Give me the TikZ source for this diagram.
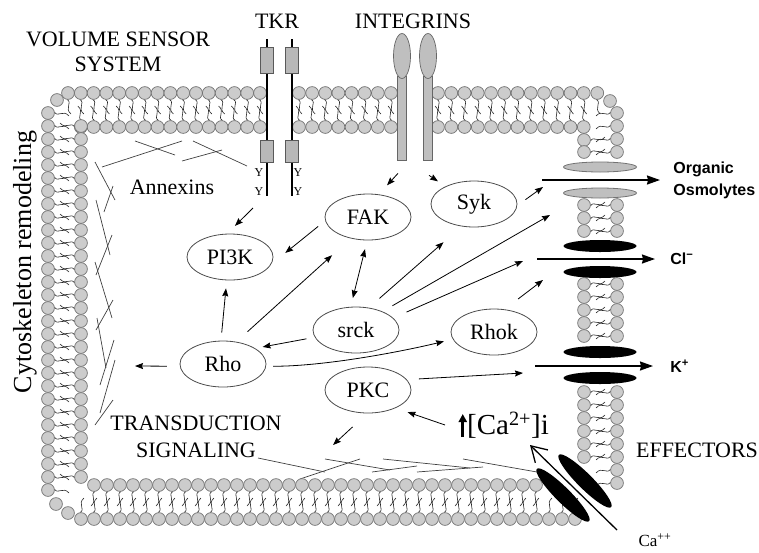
\documentclass[tikz,border=0pt]{standalone}
\usepackage{fontspec}
\setmainfont{Liberation Serif}
\newfontfamily\ionfont{Liberation Sans}
\usetikzlibrary{arrows.meta}
\usetikzlibrary{shapes.geometric}
\tikzset{l/.style={font=\fontsize{22}{25}\selectfont}}
\tikzset{m/.style={font=\fontsize{12}{12}\selectfont}}
\tikzset{ion/.style={font=\ionfont\bfseries\fontsize{16}{22}\selectfont}}
\tikzset{enz/.style={ellipse,draw=black!70,line width=0.8pt,minimum width=86pt,minimum height=46pt,inner sep=0pt,l}}
\tikzset{flux/.style={-{Stealth[length=13pt,width=9pt,inset=1pt]},line width=1.6pt}}
\tikzset{head/.style={fill=black!20,draw=black!55,line width=0.7pt}}
\tikzset{tail/.style={draw=black!85,line width=0.6pt}}
\tikzset{fibre/.style={draw=black!75,line width=0.7pt}}
\tikzset{pore/.style={ellipse,minimum width=73pt,minimum height=12pt,inner sep=0pt}}
\begin{document}
\begin{tikzpicture}[x=1pt,y=-1pt,>={Stealth[length=8pt,width=6pt,inset=1pt]},line width=0.8pt]
  \useasboundingbox (0,0) rectangle (759,552);
  % cytoskeleton
  \foreach \xa/\ya/\xb/\yb in {102/167/182/141,135/141/175/155,193/141/247/166,182/161/222/150,
      95/162/115/200,113/186/104/212,96/200/110/255,112/235/96/275,95/262/112/318,113/300/96/330,
      97/318/106/368,114/340/100/385,100/413/115/360,95/425/113/400,
      258/458/325/472,325/459/390/470,300/479/360/459,383/459/470/468,372/472/417/466,
      417/472/483/467,463/459/537/472}
    \draw[fibre] (\xa,\ya) -- (\xb,\yb);
  % membrane, top
  \foreach \a/\s/\b in {80.8/93.6/260.5, 299/312.14/391.5, 438/451.25/584.5}{
    \foreach \x in {\a,\s,...,\b}{
      \draw[tail] (\x-1,99.4) .. controls (\x+5,103) and (\x-4,108) .. (\x+3,114);
      \draw[tail] (\x+1,120.6) .. controls (\x-5,117) and (\x+4,112) .. (\x-3,106);
    }
  }
  \foreach \a/\s/\b in {80.8/93.6/260.5, 299/312.14/391.5, 438/451.25/584.5}{
    \foreach \x in {\a,\s,...,\b}{
      \draw[head] (\x,93) circle (6.4);
      \draw[head] (\x,127) circle (6.4);
    }
  }
  \foreach \x in {68,597.25}{
    \draw[tail] (\x-1,99.4) .. controls (\x+5,103) and (\x-4,108) .. (\x+3,114);
    \draw[head] (\x,93) circle (6.4);
  }
  % membrane, left
  \foreach \y in {113,126,...,490}{
    \draw[tail] (54.4,\y-1) .. controls (58,\y+5) and (63,\y-4) .. (69,\y+3);
    \draw[head] (48,\y) circle (6.4);
  }
  \foreach \y in {126,139,...,478}{
    \draw[tail] (74.6,\y+1) .. controls (71,\y-5) and (66,\y+4) .. (60,\y-3);
    \draw[head] (81,\y) circle (6.4);
  }
  % membrane, bottom
  \foreach \x in {81,94,...,575}
    \draw[tail] (\x-1,512.6) .. controls (\x+5,509) and (\x-4,504) .. (\x+3,498);
  \foreach \x in {94,107,...,545}
    \draw[tail] (\x+1,491.4) .. controls (\x-5,495) and (\x+4,500) .. (\x-3,506);
  \foreach \x in {81,94,...,575}
    \draw[head] (\x,519) circle (6.4);
  \foreach \x in {94,107,...,545}
    \draw[head] (\x,485) circle (6.4);
  % membrane, right
  \foreach \y in {113,126,139,152,205,218,231,284,297,310,323,336,392,405,...,483}
    \draw[tail] (610.6,\y-1) .. controls (607,\y+5) and (602,\y-4) .. (596,\y+3);
  \foreach \y in {140,152,205,218,231,284,297,310,323,336,392,405,...,457}
    \draw[tail] (590.4,\y+1) .. controls (594,\y-5) and (599,\y+4) .. (605,\y-3);
  \foreach \y in {113,126,139,152,205,218,231,284,297,310,323,336,392,405,...,483}
    \draw[head] (617,\y) circle (6.4);
  \foreach \y in {140,152,205,218,231,284,297,310,323,336,392,405,...,457}
    \draw[head] (584,\y) circle (6.4);
  \foreach \x/\y in {57/100,610/101,56/504,68/513}
    \draw[head] (\x,\y) circle (6.4);
  % channels
  \node[pore,fill=black!25,draw=black!55,minimum height=10pt] (osmA) at (600,167) {};
  \node[pore,fill=black!25,draw=black!55,minimum height=10pt] (osmB) at (600,193) {};
  \node[pore,fill=black] (clA) at (600,246) {};
  \node[pore,fill=black] (clB) at (600,272) {};
  \node[pore,fill=black] (kA) at (600,352) {};
  \node[pore,fill=black] (kB) at (600,378) {};
  \node[pore,fill=black,rotate=-45,minimum width=74pt,minimum height=15pt] (caA) at (563,495) {};
  \node[pore,fill=black,rotate=-45,minimum width=74pt,minimum height=15pt] (caB) at (585,481) {};
  % receptors
  \foreach \x in {267,292}{
    \draw[line width=2.4pt] (\x,39) -- (\x,196);
    \draw[fill=black!28,draw=black!65,line width=0.7pt] (\x-6.5,47) rectangle (\x+6.5,73);
    \draw[fill=black!28,draw=black!65,line width=0.7pt] (\x-6.5,140) rectangle (\x+6.5,162);
  }
  \node[draw=black!60,fill=black!25,line width=0.7pt,minimum width=9pt,minimum height=84pt,inner sep=0pt] (intA) at (402,118) {};
  \node[draw=black!60,fill=black!25,line width=0.7pt,minimum width=9pt,minimum height=84pt,inner sep=0pt] (intB) at (428,118) {};
  \node[ellipse,draw=black!60,fill=black!25,line width=0.7pt,minimum width=17pt,minimum height=45pt,inner sep=0pt] at (402,56) {};
  \node[ellipse,draw=black!60,fill=black!25,line width=0.7pt,minimum width=17pt,minimum height=45pt,inner sep=0pt] at (428,56) {};
  \foreach \x/\y in {259/173,259/192,298/173,298/192}
    \node[m] at (\x,\y) {Y};
  % enzymes
  \node[enz] (pi3k) at (230,257) {PI3K};
  \node[enz] (fak) at (368,217) {FAK};
  \node[enz] (syk) at (474,204) {Syk};
  \node[enz] (srck) at (356,330) {srck};
  \node[enz] (rhok) at (494,332) {Rhok};
  \node[enz] (rho) at (223,364) {Rho};
  \node[enz] (pkc) at (368,390) {PKC};
  % labels
  \node[l,align=center] (vss) at (118,52) {VOLUME SENSOR\\SYSTEM};
  \node[l] (tkr) at (277,21) {TKR};
  \node[l] (integrins) at (413,21) {INTEGRINS};
  \node[l] (annexins) at (172,187) {Annexins};
  \node[l,align=center] (transd) at (196,437) {TRANSDUCTION\\[2pt]SIGNALING};
  \node[l] (effectors) at (697,450) {EFFECTORS};
  \node[font=\fontsize{17}{17}\selectfont] (caion) at (655,540) {Ca\textsuperscript{++}};
  \node[font=\fontsize{29}{29}\selectfont,inner sep=0pt] (ca) at (508,425) {[Ca\textsuperscript{2+}]i};
  \node[rotate=90,font=\fontsize{26}{26}\selectfont] (cyto) at (25,262) {Cytoskeleton remodeling};
  \node[ion,align=left,anchor=west,inner sep=0pt] (osm) at (673,180) {Organic\\Osmolytes};
  \node[ion,anchor=west,inner sep=0pt] (cl) at (670,259) {Cl\textsuperscript{\char"2212}};
  \node[ion,anchor=west,inner sep=0pt] (k) at (670,366) {K\textsuperscript{+}};
  % free ends
  \coordinate (tkrY) at (253,208);
  \coordinate (osmSyk) at (543,187);
  \coordinate (osmSrc) at (550,215);
  \coordinate (clSrc) at (523,261);
  \coordinate (clRhok) at (543,280);
  \coordinate (kPkc) at (523,373);
  \coordinate (rhoOut) at (135,366);
  \coordinate (pkcOut) at (333,445);
  \coordinate (caUp) at (445,425);
  \coordinate (osmIn) at (542,180);
  \coordinate (clIn) at (537,259);
  \coordinate (kIn) at (535,366);
  \coordinate (caOut) at (617,530);
  \coordinate (caIn) at (530,445);
  % signalling
  \draw[->,shorten >=11pt] (tkrY) -- (pi3k.97);
  \draw[->] ([shift={(-4,13)}]intA.south) -- ++(-11,12);
  \draw[->] ([shift={(1,15)}]intB.south) -- ++(9,6);
  \draw[->,shorten <=9pt,shorten >=18pt] (fak.185) -- (pi3k.-10);
  \draw[->,shorten <=8pt,shorten >=8pt] (rho.95) -- (pi3k.262);
  \draw[->,shorten <=15pt,shorten >=25pt] (rho.59) -- (fak.231);
  \draw[<->,shorten <=9pt,shorten >=9pt] (fak.268) -- (srck.103);
  \draw[->,shorten <=14pt,shorten >=24pt] (srck.60) -- (syk.241);
  \draw[->,shorten <=11.5pt] (srck.35) -- (osmSrc);
  \draw[->,shorten <=14.5pt] (srck.18) -- (clSrc);
  \draw[->,shorten <=8.5pt,shorten >=7.6pt] (srck.190) -- (rho.26);
  \draw[->,shorten <=7pt,shorten >=9pt] (rho.-3) .. controls +(60,0) and +(-50,12) .. (rhok.190);
  \draw[->,shorten <=12pt] (pkc.15) -- (kPkc);
  \draw[->,shorten >=12.5pt] (caUp) -- (pkc.-33);
  \draw[->,shorten <=20pt] (pkc.268) -- (pkcOut);
  \draw[->,shorten <=13pt] (rho.183) -- (rhoOut);
  \draw[->,shorten <=10pt] (syk.-2) -- (osmSyk);
  \draw[->,shorten <=17pt] (rhok.65) -- (clRhok);
  % fluxes
  \draw[flux,shorten >=13pt] (osmIn) -- (osm.west);
  \draw[flux,shorten >=15pt] (clIn) -- (cl.west);
  \draw[flux,shorten >=17pt] (kIn) -- (k.west);
  \draw[-{Straight Barb[length=15pt,width=18pt]},line width=1.3pt] (caOut) -- (caIn);
  \draw[-{Triangle[length=8pt,width=8pt]},line width=2.6pt] ([shift={(-4,12)}]ca.west) -- ([shift={(-4,-11)}]ca.west);
\end{tikzpicture}
\end{document}
